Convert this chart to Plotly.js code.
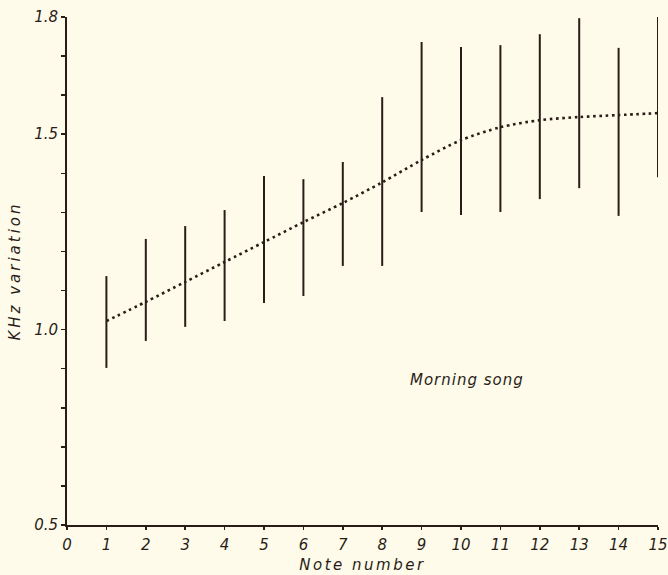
<!DOCTYPE html>
<html>
<head>
<meta charset="utf-8">
<script src="https://cdn.plot.ly/plotly-3.0.1.min.js"></script>
<style>
html,body{margin:0;padding:0;background:#fefbea;}
#chart{width:668px;height:575px;}
.xtitle{letter-spacing:2.5px;}
.ytitle{letter-spacing:3px;}
.annotation-text{letter-spacing:1px;}
</style>
</head>
<body>
<div id="chart"></div>
<script>
// Note numbers
var notes = [1,2,3,4,5,6,7,8,9,10,11,12,13,14,15];
// Upper end of the KHz range for each note
var rangeHigh = [1.137,1.232,1.265,1.306,1.393,1.385,1.429,1.595,1.736,1.723,1.728,1.756,1.797,1.721,1.818];
// Lower end of the KHz range for each note
var rangeLow = [0.902,0.971,1.007,1.022,1.068,1.086,1.163,1.163,1.301,1.293,1.301,1.334,1.362,1.291,1.390];
// Mean (dotted curve)
var meanVal = [1.022,1.071,1.122,1.173,1.224,1.275,1.324,1.377,1.434,1.485,1.518,1.536,1.544,1.549,1.554];
// Y tick positions and labels
var yTickVals = [0.5,0.6,0.7,0.8,0.9,1.0,1.1,1.2,1.3,1.4,1.5,1.6,1.7,1.8];
var yTickText = ['0.5','','','','','1.0','','','','','1.5','','','1.8'];
var xTickVals = [0,1,2,3,4,5,6,7,8,9,10,11,12,13,14,15];

var ink = '#2a1d17';
var segX = [], segY = [];
for (var i = 0; i < notes.length; i++) {
  segX.push(notes[i], notes[i], null);
  segY.push(rangeLow[i], rangeHigh[i], null);
}

var traces = [
  {x: segX, y: segY, type: 'scatter', mode: 'lines',
   line: {color: ink, width: 2}, cliponaxis: false, hoverinfo: 'skip', showlegend: false},
  {x: notes, y: meanVal, type: 'scatter', mode: 'lines',
   line: {color: ink, width: 2.6, dash: '2.6px,3.6px', shape: 'spline', smoothing: 0.8},
   cliponaxis: false, showlegend: false}
];

var font = {family: 'DejaVu Sans, sans-serif', size: 15, color: ink, style: 'italic'};

var layout = {
  width: 668, height: 575,
  paper_bgcolor: '#fefbea', plot_bgcolor: '#fefbea',
  margin: {l: 67, r: 10, t: 17, b: 50},
  showlegend: false,
  xaxis: {
    range: [0, 15], tickvals: xTickVals, ticktext: xTickVals.map(String),
    showgrid: false, zeroline: false, showline: true, linecolor: ink, linewidth: 2,
    ticks: 'outside', ticklen: 3, tickcolor: ink, tickwidth: 1.5,
    tickfont: font, ticklabelstandoff: 2,
    title: {text: 'Note number', font: {family: 'DejaVu Sans, sans-serif', size: 15, color: ink, style: 'italic'}, standoff: 6}
  },
  yaxis: {
    range: [0.5, 1.8], tickvals: yTickVals, ticktext: yTickText,
    showgrid: false, zeroline: false, showline: true, linecolor: ink, linewidth: 2,
    ticks: 'outside', ticklen: 4, tickcolor: ink, tickwidth: 1.5,
    tickfont: font, ticklabelstandoff: 0,
    title: {text: 'KHz variation', font: {family: 'DejaVu Sans, sans-serif', size: 15, color: ink, style: 'italic'}, standoff: 10}
  },
  annotations: [{
    x: 10.15, y: 0.872, xref: 'x', yref: 'y', text: 'Morning song', showarrow: false,
    font: {family: 'DejaVu Sans, sans-serif', size: 15, color: ink, style: 'italic'}
  }]
};

Plotly.newPlot('chart', traces, layout, {displayModeBar: false, staticPlot: true});
</script>
</body>
</html>
